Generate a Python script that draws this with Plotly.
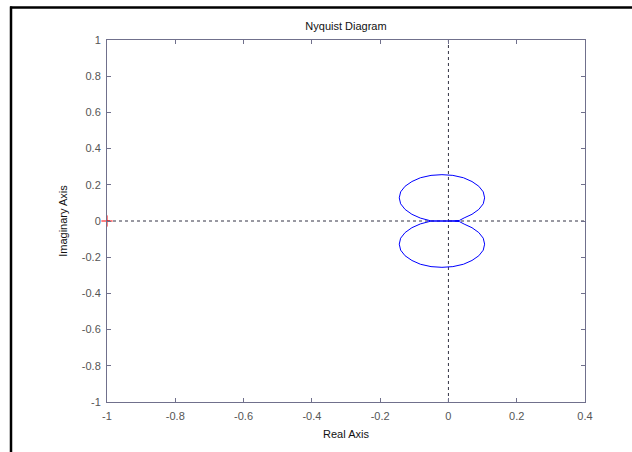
import plotly.graph_objects as go

# Upper loop of the Nyquist curve
upper_re = [0.106, 0.102, 0.089, 0.069, 0.044, 0.013, -0.019, -0.051, -0.082, -0.107,
            -0.127, -0.140, -0.144, -0.140, -0.127, -0.107, -0.082, -0.062, -0.050, 0.000,
            0.020, 0.032, 0.046, 0.069, 0.089, 0.102, 0.106]
upper_im = [0.128, 0.161, 0.192, 0.218, 0.239, 0.252, 0.256, 0.252, 0.239, 0.218,
            0.192, 0.161, 0.128, 0.095, 0.064, 0.037, 0.016, 0.004, 0.000, 0.000,
            0.000, 0.003, 0.017, 0.037, 0.064, 0.095, 0.128]
# Lower loop (mirror image, negative frequencies)
lower_re = [0.106, 0.102, 0.089, 0.069, 0.044, 0.013, -0.019, -0.051, -0.082, -0.107,
            -0.127, -0.140, -0.144, -0.140, -0.127, -0.107, -0.082, -0.062, -0.050, 0.000,
            0.020, 0.032, 0.046, 0.069, 0.089, 0.102, 0.106]
lower_im = [-0.128, -0.161, -0.192, -0.218, -0.239, -0.252, -0.256, -0.252, -0.239, -0.218,
            -0.192, -0.161, -0.128, -0.095, -0.064, -0.037, -0.016, -0.004, 0.000, 0.000,
            0.000, -0.003, -0.017, -0.037, -0.064, -0.095, -0.128]

critical_re = [-1]
critical_im = [0]

x_tickvals = [-1, -0.8, -0.6, -0.4, -0.2, 0, 0.2, 0.4]
x_ticktext = ["-1", "-0.8", "-0.6", "-0.4", "-0.2", "0", "0.2", "0.4"]
y_tickvals = [-1, -0.8, -0.6, -0.4, -0.2, 0, 0.2, 0.4, 0.6, 0.8, 1]
y_ticktext = ["-1", "-0.8", "-0.6", "-0.4", "-0.2", "0", "0.2", "0.4", "0.6", "0.8", "1"]

W, H = 632, 452
L, R, T, B = 107, 47, 40, 50
pw, ph = W - L - R, H - T - B

fig = go.Figure()
fig.add_trace(go.Scatter(x=upper_re, y=upper_im, mode="lines",
                         line=dict(color="#0000ff", width=1), showlegend=False))
fig.add_trace(go.Scatter(x=lower_re, y=lower_im, mode="lines",
                         line=dict(color="#0000ff", width=1), showlegend=False))
fig.add_trace(go.Scatter(x=critical_re, y=critical_im, mode="markers",
                         marker=dict(symbol="cross-thin", size=8,
                                     line=dict(color="#ff0000", width=1)),
                         showlegend=False, cliponaxis=False))

axis_color = "#70708c"
font = dict(family="Liberation Sans, Arial, sans-serif", size=11, color="#555555")

fig.update_layout(
    width=W, height=H,
    margin=dict(l=L, r=R, t=T, b=B),
    paper_bgcolor="white", plot_bgcolor="white",
    font=font,
    title=dict(text="Nyquist Diagram", x=(L + pw / 2) / W, xanchor="center",
               y=1 - 26 / H, yanchor="middle", yref="container",
               font=dict(family="Liberation Sans, Arial, sans-serif", size=11, color="#111111")),
    xaxis=dict(range=[-1, 0.4], tickvals=x_tickvals, ticktext=x_ticktext,
               showgrid=False, zeroline=False, showline=True, linecolor=axis_color,
               linewidth=1, mirror="allticks", ticks="inside", ticklen=4,
               tickcolor=axis_color, ticklabelstandoff=4,
               title=dict(text="Real Axis", standoff=9,
                          font=dict(size=11, color="#111111"))),
    yaxis=dict(range=[-1, 1], tickvals=y_tickvals, ticktext=y_ticktext,
               showgrid=False, zeroline=False, showline=True, linecolor=axis_color,
               linewidth=1, mirror="allticks", ticks="inside", ticklen=4,
               tickcolor=axis_color, ticklabelstandoff=3,
               title=dict(text="Imaginary Axis", standoff=11,
                          font=dict(size=11, color="#111111"))),
    shapes=[
        dict(type="line", xref="x", yref="paper", x0=0, x1=0, y0=0, y1=1,
             line=dict(color="#333344", width=1, dash="3px,3px"), layer="below"),
        dict(type="line", xref="paper", yref="y", x0=0, x1=1, y0=0, y1=0,
             line=dict(color="#333344", width=1, dash="3px,3px"), layer="below"),
        # outer frame (top and left edges)
        dict(type="line", xref="paper", yref="paper",
             x0=(10 - L) / pw, x1=(W + 5 - L) / pw,
             y0=1 + (T - 7.5) / ph, y1=1 + (T - 7.5) / ph,
             line=dict(color="black", width=2.5)),
        dict(type="line", xref="paper", yref="paper",
             x0=(11 - L) / pw, x1=(11 - L) / pw,
             y0=1 + (T - 6.5) / ph, y1=-(B + 5) / ph,
             line=dict(color="black", width=2.5)),
    ],
)

fig.write_html("out.html", config={"displayModeBar": False},
               post_script="document.body.style.margin='0';")
